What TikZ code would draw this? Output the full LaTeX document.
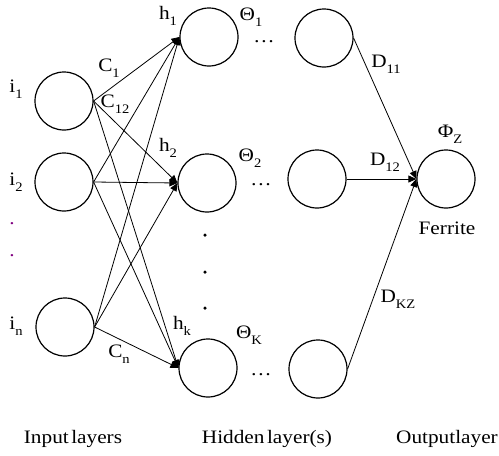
\documentclass[tikz,border=0pt]{standalone}
\usepackage{fontspec}
\setmainfont[FakeStretch=1.12]{Liberation Serif}
\usetikzlibrary{arrows.meta}
\newcommand\sbs[1]{\raisebox{-0.3em}{\fontsize{13}{13}\selectfont #1}}
\newcommand\wsp{\hspace{2.5pt}}
\begin{document}
\begin{tikzpicture}[x=1pt,y=-1pt,
  neuron/.style={circle,draw,line width=1.2pt,minimum size=58pt,inner sep=0pt},
  lbl/.style={font=\fontsize{19}{19}\selectfont,inner sep=0pt},
  big/.style={font=\fontsize{19}{19}\selectfont,inner sep=0pt},
  conn/.style={line width=0.8pt},
  arr/.style={conn,-{Triangle[length=8pt,width=7pt]}},
  dot/.style={circle,fill,inner sep=0pt,minimum size=3.5pt}]
\path[use as bounding box] (0,0) rectangle (499,456);
% input layer
\node[neuron] (i1) at (64,101) {};
\node[neuron] (i2) at (64,182) {};
\node[neuron] (in) at (65,327) {};
% hidden layer
\node[neuron] (h1) at (209,37) {};
\node[neuron] (h2) at (207,183) {};
\node[neuron] (hk) at (208,368) {};
% last hidden
\node[neuron] (o1) at (324,38) {};
\node[neuron] (o2) at (317,179) {};
\node[neuron] (ok) at (318,369) {};
% output
\node[neuron] (phi) at (446,179) {};
% connectors
\foreach \s in {i1,i2,in}
  \foreach \t in {h1,h2,hk}
    \draw[arr] (\s.east) -- (\t.west);
\draw[arr] (o1.east) -- (phi.west);
\draw[arr] (o2.east) -- (phi.west);
\draw[arr] (ok.east) -- (phi.west);
% labels
\node[lbl] (li1) at (16,89) {i\sbs{1}};
\node[lbl] (li2) at (16,182) {i\sbs{2}};
\node[lbl,text=violet] (ld1) at (12,224) {.};
\node[lbl,text=violet] (ld2) at (12,256) {.};
\node[lbl] (lin) at (16,326) {i\sbs{n}};
\node[lbl] (lh1) at (168,16) {h\sbs{1}};
\node[lbl] (lh2) at (168,148) {h\sbs{2}};
\node[lbl] (lhk) at (182,326) {h\sbs{k}};
\node[lbl] (lc1) at (109,68) {C\sbs{1}};
\node[lbl] (lc12) at (115,104) {C\sbs{12}};
\node[lbl] (lcn) at (119,354) {C\sbs{n}};
\node[lbl] (lt1) at (251,17) {Θ\sbs{1}};
\node[lbl] (lt2) at (250,158) {Θ\sbs{2}};
\node[lbl] (ltk) at (249,335) {Θ\sbs{K}};
\node[lbl] (e1) at (264,42) {\ldots};
\node[lbl] (e2) at (261,185) {\ldots};
\node[lbl] (e3) at (261,375) {\ldots};
\node[dot] (v1) at (205,235) {};
\node[dot] (v2) at (205,272) {};
\node[dot] (v3) at (205,308) {};
\node[lbl] (ld11) at (386,64) {D\sbs{11}};
\node[lbl] (ld12) at (385,162) {D\sbs{12}};
\node[lbl] (ldkz) at (398,299) {D\sbs{KZ}};
\node[lbl] (lphi) at (450,134) {Φ\sbs{Z}};
\node[lbl] (lfer) at (447,228) {Ferrite};
\node[big] (bin) at (73,439) {Input\wsp layers};
\node[big] (bhid) at (267,439) {Hidden\wsp layer(s)};
\node[big] (bout) at (447,439) {Outputlayer};
\end{tikzpicture}
\end{document}
